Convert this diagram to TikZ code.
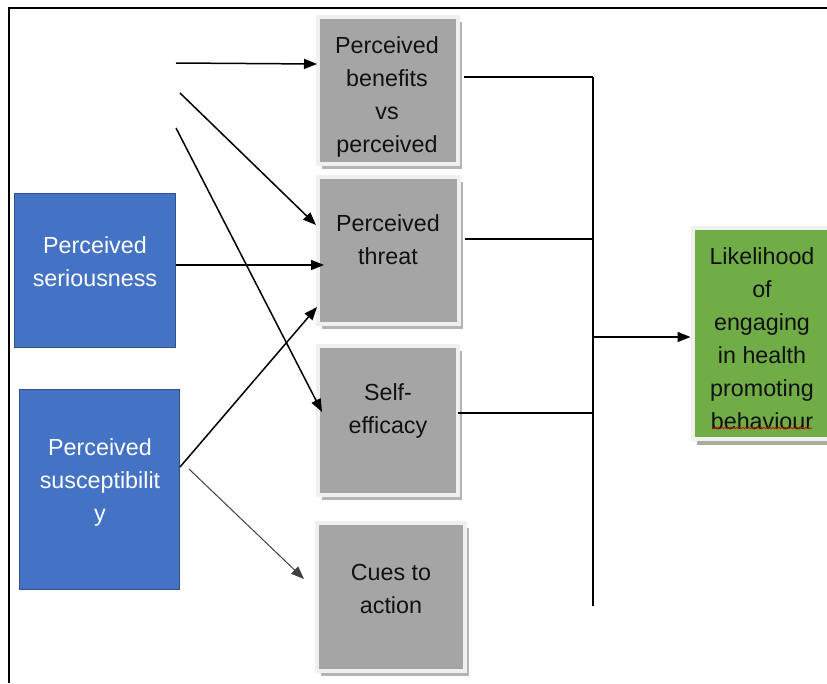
\documentclass[tikz,border=0pt]{standalone}
\usepackage{fontspec}
\setmainfont{Liberation Sans}
\usetikzlibrary{arrows.meta,calc,shadows,decorations.pathmorphing}
\definecolor{boxgrey}{HTML}{A5A5A5}
\definecolor{framegrey}{HTML}{F0F0F0}
\definecolor{shadowgrey}{HTML}{B4B4B4}
\definecolor{bluefill}{HTML}{4472C4}
\definecolor{blueedge}{HTML}{2F528F}
\definecolor{greenfill}{HTML}{70AD47}
\definecolor{greenshadow}{HTML}{A3B09A}
\definecolor{inktext}{HTML}{111111}
\begin{document}
\begin{tikzpicture}[x=1pt,y=-1pt,
  lbl/.style={font=\fontsize{23.3}{33}\selectfont, align=center, inner sep=0pt, text=inktext},
  wlbl/.style={lbl, text=white},
  greybox/.style={rectangle, fill=boxgrey, draw=framegrey, line width=4pt, inner sep=0pt,
    general shadow={fill=shadowgrey, shadow xshift=4pt, shadow yshift=-5pt}},
  greenbox/.style={greybox, fill=greenfill,
    general shadow={fill=greenshadow, shadow xshift=4pt, shadow yshift=-6pt}},
  bluebox/.style={rectangle, fill=bluefill, draw=blueedge, line width=1pt, inner sep=0pt},
  conn/.style={line width=1.5pt, draw=black},
  arr/.style={conn, -{Triangle[length=13pt, width=10pt]}},
  thinarr/.style={line width=1pt, draw=black!75, -{Triangle[length=13pt, width=10pt]}}]

\clip (0,0) rectangle (827,683);
\fill[white] (0,0) rectangle (827,683);

% outer frame (top and left edges)
\draw[line width=1.5pt] (9,683) -- (9,8) -- (827,8);

% central grey boxes
\node[greybox, minimum width=140pt, minimum height=147pt] (ben) at (388,90.5) {};
\node[greybox, minimum width=141pt, minimum height=147pt] (thr) at (388.5,250.5) {};
\node[greybox, minimum width=140pt, minimum height=149pt] (slf) at (388,420) {};
\node[greybox, minimum width=148pt, minimum height=148pt] (cue) at (391,597) {};

\node[lbl] (benT) at (387,96.5) {Perceived\\benefits\\vs\\perceived};
\node[lbl] (thrT) at (388,240) {Perceived\\threat};
\node[lbl] (slfT) at (388,411) {Self-\\efficacy};
\node[lbl] (cueT) at (391,589) {Cues to\\action};

% outcome box
\node[greenbox, minimum width=139pt, minimum height=211pt] (grn) at (762,333.5) {};
\node[lbl] (grnT) at (762,338.5) {Likelihood\\of\\engaging\\in health\\promoting\\behaviour};
\draw[red!85!black, line width=0.7pt, decorate,
      decoration={snake, amplitude=0.7pt, segment length=3pt}] (712,428) -- (812,428);

% modifying factors
\node[bluebox, minimum width=161pt, minimum height=154pt] (ser) at (95,270.5) {};
\node[wlbl] (serT) at (95,261.5) {Perceived\\seriousness};
\node[bluebox, minimum width=160pt, minimum height=200pt] (sus) at (99.5,489.5) {};
\node[wlbl] (susT) at (100,482.5) {Perceived\\susceptibilit\\y};

% free starting points of the upper arrows
\coordinate (c1) at (176,63);
\coordinate (c2) at (180,93);
\coordinate (c3) at (176,128);
\coordinate (c6) at (189,469);

\draw[arr] (c1) -- ($(ben.west)+(1,-26.5)$);
\draw[arr] (c2) -- ($(thr.west)+(0,-25.5)$);
\draw[arr] (c3) -- ($(slf.west)+(6,-8)$);
\draw[arr] ($(ser.east)+(0,-5.5)$) -- ($(thr.west)+(8,14.5)$);
\draw[arr] ($(sus.east)+(0,-22.5)$) -- ($(thr.west)+(1,56.5)$);
\draw[thinarr] (c6) -- ($(cue.west)+(-11,-18)$);

% collecting bus on the right
\coordinate (bt) at (593,77);
\coordinate (bb) at (593,606);
\draw[conn] (bt) -- (bb);
\draw[conn] ($(ben.east)+(4,-13.5)$) -- (bt);
\coordinate (t2) at ($(thr.east)+(4,-11.5)$);
\draw[conn] (t2) -- (t2 -| bt);
\coordinate (t3) at ($(slf.east)+(-2,-7)$);
\draw[conn] (t3) -- (t3 -| bt);
\coordinate (t4) at ($(grn.west)+(0,3.5)$);
\draw[arr] (t4 -| bt) -- (t4);
\end{tikzpicture}
\end{document}
